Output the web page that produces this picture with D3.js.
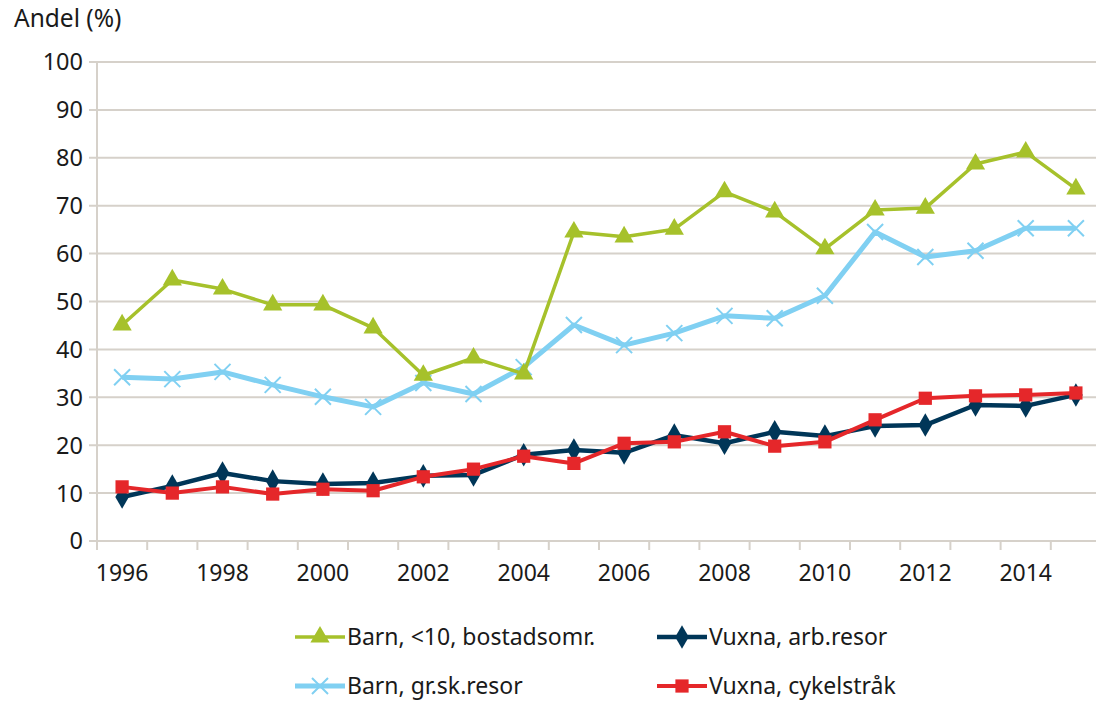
<!doctype html>
<html lang="sv">
<head>
  <meta charset="UTF-8">
  <title>Andel (%)</title>
  <style type="text/css">
    body { margin: 0; background: #fff; }
    text { font-family: "Noto Sans", "Open Sans", sans-serif; fill: #1a1a1a; }
  </style>
  <script src="https://cdn.jsdelivr.net/npm/d3@7"></script>
</head>
<body>
  <div id="container"></div>
  <script>
    var years = d3.range(1996, 2016);
    var yTicks = [0, 10, 20, 30, 40, 50, 60, 70, 80, 90, 100];
    var xLabels = [1996, 1998, 2000, 2002, 2004, 2006, 2008, 2010, 2012, 2014];

    var barnBostad = [45.1, 54.5, 52.6, 49.3, 49.3, 44.5, 34.6, 38.2, 34.9, 64.5, 63.5, 65.1, 72.9, 68.7, 61.0, 69.1, 69.5, 78.7, 81.2, 73.5];
    var barnSkola = [34.2, 33.8, 35.3, 32.6, 30.1, 28.0, 33.0, 30.7, 36.3, 45.1, 40.9, 43.4, 47.0, 46.5, 51.2, 64.5, 59.3, 60.6, 65.3, 65.3];
    var vuxnaArb = [9.2, 11.5, 14.2, 12.5, 11.9, 12.1, 13.6, 13.8, 18.0, 19.0, 18.4, 22.1, 20.4, 22.8, 21.9, 24.0, 24.2, 28.4, 28.2, 30.5];
    var vuxnaCykel = [11.3, 10.0, 11.3, 9.8, 10.8, 10.5, 13.4, 15.0, 17.7, 16.2, 20.4, 20.7, 22.8, 19.8, 20.7, 25.3, 29.8, 30.3, 30.5, 30.9];

    var series = [
      { name: "Barn, <10, bostadsomr.", values: barnBostad, color: "#a6c12b", width: 3.5, symbol: d3.symbolTriangle, size: 160 },
      { name: "Barn, gr.sk.resor", values: barnSkola, color: "#80d0f2", width: 5, symbol: "cross", size: 8 },
      { name: "Vuxna, arb.resor", values: vuxnaArb, color: "#003658", width: 4.5, symbol: d3.symbolDiamond, size: 160 },
      { name: "Vuxna, cykelstråk", values: vuxnaCykel, color: "#e5272a", width: 4, symbol: d3.symbolSquare, size: 175 }
    ];
    // ritordning: ljusblå, grön, mörkblå, röd överst
    var drawOrder = [1, 0, 2, 3];

    var width = 1096, height = 702,
      plotL = 97, plotR = 1101, plotT = 62, plotB = 541;

    var svg = d3.select('#container').append('svg').attr('width', width).attr('height', height);

    var x = d3.scaleBand().domain(years).range([plotL, plotR]);
    var y = d3.scaleLinear().domain([0, 100]).range([plotB, plotT]);
    var cx = function (i) { return x(years[i]) + x.bandwidth() / 2; };

    var grid = "#d6d1ca";

    // stödlinjer
    svg.append('g').selectAll('line').data(yTicks).join('line')
      .attr('x1', plotL - 8).attr('x2', width)
      .attr('y1', function (d) { return y(d); }).attr('y2', function (d) { return y(d); })
      .attr('stroke', grid).attr('stroke-width', 2);

    // y-axel
    svg.append('line').attr('x1', plotL).attr('x2', plotL).attr('y1', plotT).attr('y2', plotB + 9)
      .attr('stroke', grid).attr('stroke-width', 2);

    // x-streck mellan kategorierna
    svg.append('g').selectAll('line').data(years.slice(1)).join('line')
      .attr('x1', function (d) { return x(d); }).attr('x2', function (d) { return x(d); })
      .attr('y1', plotB).attr('y2', plotB + 9)
      .attr('stroke', grid).attr('stroke-width', 2);

    svg.append('g').selectAll('text').data(yTicks).join('text')
      .attr('x', 83).attr('y', function (d) { return y(d); })
      .attr('dy', '0.36em').attr('text-anchor', 'end')
      .style('font-size', '23.5px').text(function (d) { return d; });

    svg.append('g').selectAll('text').data(xLabels).join('text')
      .attr('x', function (d) { return x(d) + x.bandwidth() / 2; }).attr('y', 581)
      .attr('text-anchor', 'middle').style('font-size', '23px')
      .text(function (d) { return d; });

    svg.append('text').attr('x', 14).attr('y', 27).style('font-size', '24.5px').text('Andel (%)');

    function marker(g, s, px, py) {
      if (s.symbol === "cross") {
        var r = s.size;
        g.append('path')
          .attr('d', 'M' + (px - r) + ',' + (py - r) + 'L' + (px + r) + ',' + (py + r) +
            'M' + (px - r) + ',' + (py + r) + 'L' + (px + r) + ',' + (py - r))
          .attr('stroke', s.color).attr('stroke-width', 2).attr('fill', 'none');
      } else {
        g.append('path').attr('d', d3.symbol().type(s.symbol).size(s.size)())
          .attr('transform', 'translate(' + px + ',' + py + ')')
          .attr('fill', s.color);
      }
    }

    var line = d3.line()
      .x(function (d, i) { return cx(i); })
      .y(function (d) { return y(d); });

    drawOrder.forEach(function (k) {
      var s = series[k];
      var g = svg.append('g');
      g.append('path').attr('d', line(s.values))
        .attr('fill', 'none').attr('stroke', s.color).attr('stroke-width', s.width)
        .attr('stroke-linejoin', 'round');
      s.values.forEach(function (v, i) { marker(g, s, cx(i), y(v)); });
    });

    // teckenförklaring
    var legendPos = [[295, 637], [295, 686], [657, 637], [657, 686]];
    series.forEach(function (s, k) {
      var p = legendPos[k];
      var g = svg.append('g');
      g.append('line').attr('x1', p[0]).attr('x2', p[0] + 50).attr('y1', p[1]).attr('y2', p[1])
        .attr('stroke', s.color).attr('stroke-width', s.width);
      marker(g, s, p[0] + 25, p[1]);
      g.append('text').attr('x', p[0] + 52).attr('y', p[1]).attr('dy', '0.36em')
        .style('font-size', '23px').text(s.name);
    });
  </script>
</body>
</html>
